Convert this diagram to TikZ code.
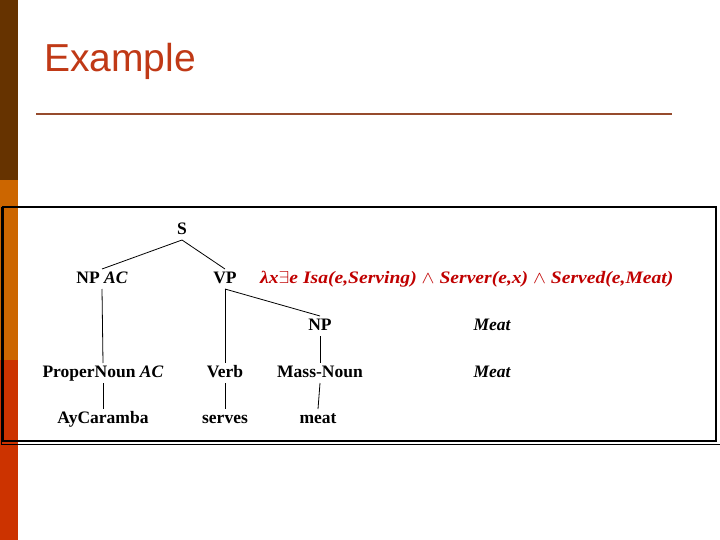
\documentclass[tikz,border=0pt]{standalone}
\usepackage{fontspec}
\usepackage{graphicx}
\setmainfont{Liberation Serif}
\newfontfamily\titlefont{Liberation Sans}
\definecolor{barbrown}{RGB}{102,51,0}
\definecolor{barorange}{RGB}{204,102,0}
\definecolor{barred}{RGB}{204,51,0}
\definecolor{titlered}{RGB}{192,57,22}
\definecolor{rulebrown}{RGB}{150,75,45}
\definecolor{formred}{RGB}{192,0,0}
\tikzset{
  tn/.style={anchor=base, inner sep=0pt, outer sep=2pt, text height=12pt, text depth=4pt,
    font=\fontsize{17.5}{18}\selectfont\bfseries},
  sem/.style={anchor=base, inner sep=0pt, font=\fontsize{17.5}{18}\selectfont\bfseries\itshape},
  edge/.style={draw=black, line width=0.8pt}
}
\begin{document}
\begin{tikzpicture}[x=1pt,y=-1pt]
\useasboundingbox (0,0) rectangle (720,540);
\fill[white] (0,0) rectangle (720,540);
% left bar
\fill[barbrown] (0,0) rectangle (18,180);
\fill[barorange] (0,180) rectangle (18,360);
\fill[barred] (0,360) rectangle (18,540);
% title
\node[anchor=base west, inner sep=0pt, text=titlered, font=\titlefont\fontsize{39}{40}\selectfont] (title) at (44,72) {Example};
\draw[rulebrown, line width=2pt] (36,114) -- (672,114);
% frame
\draw[black, line width=2.2pt] (3,207) rectangle (716,441);
\draw[black, line width=1pt] (1,207) -- (1,444) -- (720,444);
% tree nodes
\node[tn] (S) at (182,234) {S};
\node[tn] (NPAC) at (102,283) {NP \textit{AC}};
\node[tn] (VP) at (225,283) {VP};
\node[anchor=base west, inner sep=0pt, text=formred, font=\fontsize{17.5}{18}\selectfont\bfseries\itshape] (form) at (260,283) {\scalebox{1.12}[1]{λx$\exists$e Isa(e,Serving) $\wedge$ Server(e,x) $\wedge$ Served(e,Meat)}};
\node[tn] (NP) at (320,330) {NP};
\node[sem] (meat1) at (492,330) {Meat};
\node[tn] (PN) at (103,377) {ProperNoun \textit{AC}};
\node[tn] (Verb) at (225,377) {Verb};
\node[tn] (MN) at (320,377) {Mass-Noun};
\node[sem] (meat2) at (492,377) {Meat};
\node[tn] (Ay) at (103,423) {AyCaramba};
\node[tn] (serves) at (225,423) {serves};
\node[tn] (meat) at (318,423) {meat};
% connectors
\draw[edge] (S.south) -- (NPAC.north);
\draw[edge] (S.south) -- (VP.north);
\draw[edge] (NPAC.south) -- (PN.north);
\draw[edge] (VP.south) -- (Verb.north);
\draw[edge] (VP.south) -- (NP.north);
\draw[edge] (NP.south) -- (MN.north);
\draw[edge] (PN.south) -- (Ay.north);
\draw[edge] (Verb.south) -- (serves.north);
\draw[edge] (MN.south) -- (meat.north);
\end{tikzpicture}
\end{document}
